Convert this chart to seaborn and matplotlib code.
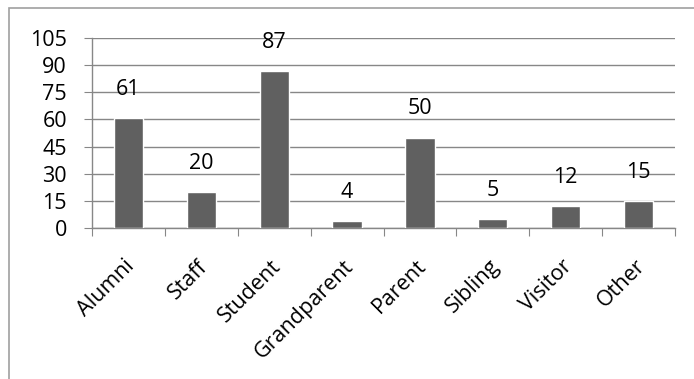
import matplotlib
matplotlib.use("Agg")
import matplotlib.pyplot as plt
import matplotlib.patches as mpatches
import matplotlib.transforms as mtransforms
import seaborn as sns
import pandas as pd

categories = ["Alumni", "Staff", "Student", "Grandparent", "Parent", "Sibling", "Visitor", "Other"]
counts = [61, 20, 87, 4, 50, 5, 12, 15]
y_ticks = [0, 15, 30, 45, 60, 75, 90, 105]

sns.set_style("white")
plt.rcParams["font.family"] = ["Open Sans", "DejaVu Sans"]
plt.rcParams["text.color"] = "black"
plt.rcParams["xtick.color"] = "black"
plt.rcParams["ytick.color"] = "black"

FS = 15.5

df = pd.DataFrame({"category": categories, "count": counts})

fig = plt.figure(figsize=(6.94, 3.79), dpi=100)
ax = fig.add_axes([0.1326, 0.3984, 0.9726 - 0.1326, 0.8997 - 0.3984])

sns.barplot(data=df, x="category", y="count", color="#606060", width=0.4,
            saturation=1, ax=ax, zorder=3)

ax.set_xlim(-0.5, len(categories) - 0.5)
ax.set_ylim(0, 105)
ax.set_yticks(y_ticks)
ax.set_yticklabels([str(t) for t in y_ticks], fontsize=FS)
ax.yaxis.grid(True, color="#878787", linewidth=1.0, zorder=0)
ax.set_axisbelow(True)

# category boundaries carry the tick marks; names sit at bar centres
ax.set_xticks([i - 0.5 for i in range(len(categories) + 1)])
ax.set_xticklabels([])
ax.set_xticks(range(len(categories)), minor=True)
ax.set_xticklabels(categories, minor=True, rotation=45, ha="right",
                   rotation_mode="anchor", fontsize=FS)
ax.tick_params(axis="x", which="minor", length=0, pad=20)
ax.tick_params(axis="x", which="major", length=6, color="#878787", direction="out", bottom=True)
ax.tick_params(axis="y", length=6, color="#878787", labelcolor="black",
               direction="out", left=True, pad=12)
ax.tick_params(axis="x", which="both", labelcolor="black")

shift = mtransforms.ScaledTranslation(-3 / 72, 0, fig.dpi_scale_trans)
for lbl in ax.get_xticklabels(minor=True):
    lbl.set_transform(lbl.get_transform() + shift)

for side in ["top", "right"]:
    ax.spines[side].set_visible(False)
for side in ["left", "bottom"]:
    ax.spines[side].set_color("#878787")
    ax.spines[side].set_linewidth(1.0)

for i, v in enumerate(counts):
    ax.annotate(str(v), (i, v), xytext=(0, 13), textcoords="offset points",
                ha="center", va="bottom", fontsize=FS, color="black")

ax.set_xlabel("")
ax.set_ylabel("")

# chart-area frame
frame = mpatches.Rectangle((9 / 694, -0.1), 1.2, 1.1 - 8 / 379,
                           transform=fig.transFigure, fill=False,
                           edgecolor="#a0a0a0", linewidth=1.2)
fig.patches.append(frame)

fig.savefig("out.png", dpi=100)
